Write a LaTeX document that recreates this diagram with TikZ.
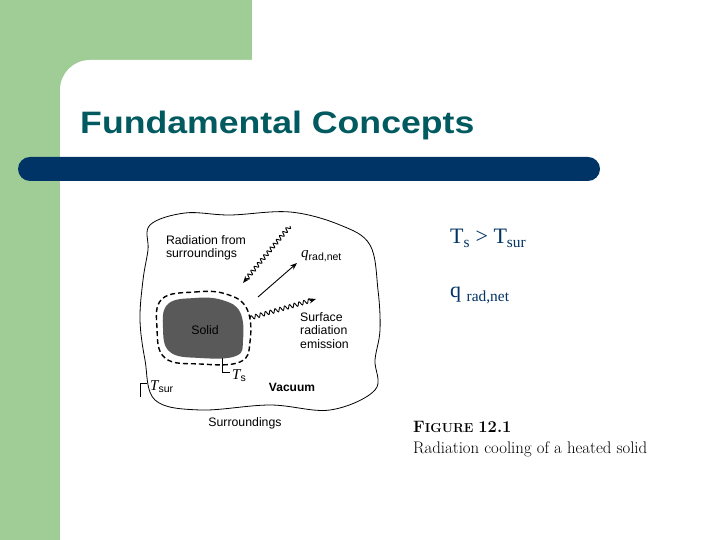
\documentclass[tikz,border=0pt]{standalone}
\usepackage{fontspec}
\setmainfont{Liberation Serif}
\setsansfont{Liberation Sans}
\newfontfamily\lmfont{Latin Modern Roman}
\usetikzlibrary{decorations.pathmorphing,arrows.meta}
\definecolor{slgreen}{RGB}{160,205,150}
\definecolor{slblue}{RGB}{0,51,102}
\definecolor{slteal}{RGB}{0,90,95}
\tikzset{
  lbl/.style={font=\sffamily\fontsize{12.3}{13.5}\selectfont,inner sep=0pt,align=left},
  mlbl/.style={font=\itshape\fontsize{15}{16}\selectfont,inner sep=0pt,anchor=west},
  wavy/.style={decorate,decoration={snake,amplitude=2pt,segment length=5pt,post length=5pt},-{Stealth[length=7pt]},line width=0.9pt},
  rtext/.style={text=slblue,font=\fontsize{22}{25}\selectfont,anchor=base west,inner sep=0pt}
}
\newcommand{\sfsub}[1]{\textsubscript{\upshape\sffamily #1}}
\begin{document}
\begin{tikzpicture}[x=1pt,y=1pt]
\useasboundingbox (0,0) rectangle (720,540);
\fill[slgreen] (0,0) rectangle (252,540);
\fill[white] (60,0) -- (60,450) arc(180:90:30) -- (720,480) -- (720,0) -- cycle;
\fill[slblue,rounded corners=12pt] (18,359) rectangle (600,383);
\node[anchor=base west,inner sep=0pt,text=slteal,font=\sffamily\bfseries\fontsize{31}{34}\selectfont,xscale=1.15,transform shape] (title) at (80,406) {Fundamental Concepts};
% surroundings boundary
\draw[line width=0.8pt] plot[smooth cycle,tension=0.6] coordinates {(150,315) (185,327) (230,325) (290,328) (340,315) (370,295) (378,250) (380,210) (375,180) (375,150) (330,130) (270,135) (200,130) (155,140) (145,180) (140,220) (143,260) (148,290)};
% solid
\fill[gray!70!black] plot[smooth cycle,tension=0.7] coordinates {(168,236) (195,242) (222,240) (240,228) (243,200) (236,184) (200,182) (170,188) (163,212)};
\draw[line width=1.4pt,dash pattern=on 5pt off 3pt] plot[smooth cycle,tension=0.7] coordinates {(162,241) (195,248) (226,246) (247,231) (250,198) (240,178) (200,176) (165,182) (157,212)};
\node[lbl,text=black] (solid) at (205,210) {Solid};
\node[lbl,align=left] (rad) at (206,292) {Radiation from\\surroundings};
\coordinate (w1s) at (290,314);
\coordinate (w1e) at (243,257);
\draw[wavy] (w1s) -- (w1e);
\coordinate (as) at (258,243);
\coordinate (ae) at (297,277);
\draw[-{Stealth[length=7pt]},line width=0.9pt] (as) -- (ae);
\node[mlbl] (q) at (301,284) {q\sfsub{rad,net}};
\coordinate (w2s) at (250,222);
\coordinate (w2e) at (316,241);
\draw[wavy] (w2s) -- (w2e);
\node[lbl,anchor=north west] (surf) at (300,228) {Surface\\radiation\\emission};
\coordinate (tsa) at (222,182);
\draw (tsa) |- (230,168);
\node[mlbl] (ts) at (232,164) {T\sfsub{s}};
\node[lbl,font=\sffamily\bfseries\fontsize{12}{13}\selectfont] (vac) at (292,153) {Vacuum};
\coordinate (tsura) at (140,143);
\draw (tsura) |- (147,157);
\node[mlbl] (tsur) at (150,153) {T\sfsub{sur}};
\node[lbl] (sur) at (245,117) {Surroundings};
% right text
\node[rtext] (t1) at (450,296) {T\textsubscript{s} > T\textsubscript{sur}};
\node[rtext] (t2) at (450,242) {q \textsubscript{rad,net}};
\node[anchor=base west,inner sep=0pt,font=\lmfont\bfseries\fontsize{16.5}{18}\selectfont] (fig) at (413,107) {F\fontsize{13}{14}\selectfont IGURE \fontsize{16.5}{18}\selectfont 12.1};
\node[anchor=base west,inner sep=0pt,font=\lmfont\fontsize{16.8}{18}\selectfont] (cap) at (413,86) {Radiation cooling of a heated solid};
\end{tikzpicture}
\end{document}
